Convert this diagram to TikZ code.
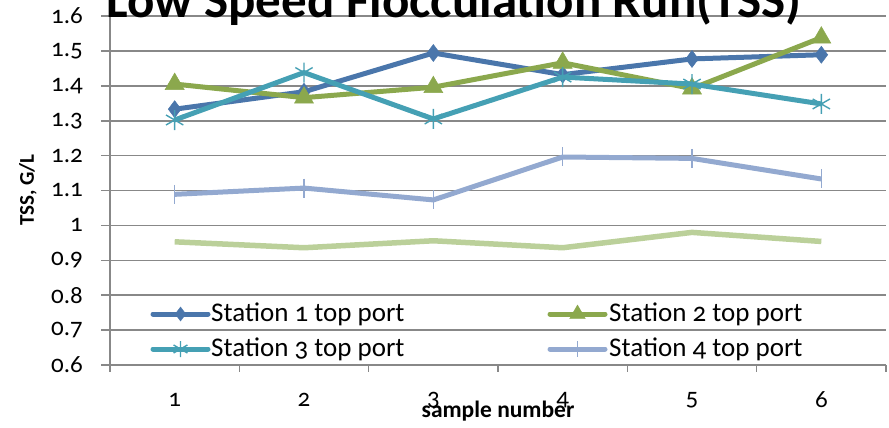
\documentclass[tikz,border=0pt]{standalone}
\usepackage{fontspec}
\setmainfont{Carlito}[Numbers=OldStyle]
\usetikzlibrary{plotmarks}
\definecolor{cA}{HTML}{4A76AB}
\definecolor{cB}{HTML}{8BA84D}
\definecolor{cC}{HTML}{45A0B4}
\definecolor{cD}{HTML}{93A9D0}
\definecolor{cE}{HTML}{BBD09A}
\definecolor{axisgray}{HTML}{888888}
\tikzset{
  grid/.style={draw=axisgray,line width=1.6pt},
  serline/.style={line width=5pt,line join=round},
  ticklab/.style={font=\fontsize{25}{25}\selectfont,inner sep=0pt},
  leglab/.style={font=\fontsize{27}{27}\selectfont,inner sep=0pt,anchor=west},
}
\newcommand\catx[1]{110+(#1-0.5)*129.333}
\newcommand\valy[1]{365-(#1-0.6)*349}
\begin{document}
\begin{tikzpicture}[x=1pt,y=-1pt]
\useasboundingbox (0,0) rectangle (889,428);
\clip (0,0) rectangle (889,428);
% gridlines and y ticks
\foreach \k in {0,...,10}{
  \pgfmathsetmacro\gy{365-\k*34.9}
  \draw[grid] (101,\gy) -- (886,\gy);
}
\foreach \k/\lab in {0/0.6,1/0.7,2/0.8,3/0.9,4/1,5/1.1,6/1.2,7/1.3,8/1.4,9/1.5,10/1.6}{
  \pgfmathsetmacro\gy{365-\k*34.9}
  \node[ticklab,anchor=east] (yl\k) at (83,\gy) {\lab};
}
% axes
\draw[grid] (110,16) -- (110,372);
\foreach \k in {1,...,6}{
  \pgfmathsetmacro\tx{110+\k*129.333}
  \draw[grid] (\tx,365) -- (\tx,372);
}
\foreach \k in {1,...,6}{
  \node[ticklab] (xl\k) at ({\catx{\k}},400) {\k};
}
% data coordinates
\foreach \i/\v in {1/1.333,2/1.383,3/1.494,4/1.432,5/1.477,6/1.489}
  \coordinate (a\i) at ({\catx{\i}},{\valy{\v}});
\foreach \i/\v in {1/1.405,2/1.366,3/1.396,4/1.466,5/1.392,6/1.538}
  \coordinate (b\i) at ({\catx{\i}},{\valy{\v}});
\foreach \i/\v in {1/1.302,2/1.438,3/1.305,4/1.425,5/1.405,6/1.348}
  \coordinate (c\i) at ({\catx{\i}},{\valy{\v}});
\foreach \i/\v in {1/1.089,2/1.107,3/1.073,4/1.196,5/1.192,6/1.133}
  \coordinate (d\i) at ({\catx{\i}},{\valy{\v}});
\foreach \i/\v in {1/0.953,2/0.936,3/0.956,4/0.936,5/0.980,6/0.954}
  \coordinate (e\i) at ({\catx{\i}},{\valy{\v}});
% series 5 (no markers)
\draw[serline,cE,line width=5.5pt] (e1) -- (e2) -- (e3) -- (e4) -- (e5) -- (e6);
% series 4
\draw[serline,cD] (d1) -- (d2) -- (d3) -- (d4) -- (d5) -- (d6);
\path plot[mark=|,mark size=9.5pt,mark options={draw=cD,line width=1.4pt}] coordinates {(d1)(d2)(d3)(d4)(d5)(d6)};
% series 1
\draw[serline,cA] (a1) -- (a2) -- (a3) -- (a4) -- (a5) -- (a6);
\path plot[mark=diamond*,mark size=8.5pt,mark options={draw=cA,fill=cA,line width=0.5pt}] coordinates {(a1)(a2)(a3)(a4)(a5)(a6)};
% series 2
\draw[serline,cB] (b1) -- (b2) -- (b3) -- (b4) -- (b5) -- (b6);
\path plot[mark=triangle*,mark size=11pt,mark options={draw=cB,fill=cB,line width=0.5pt}] coordinates {(b1)(b2)(b3)(b4)(b5)(b6)};
% series 3
\draw[serline,cC] (c1) -- (c2) -- (c3) -- (c4) -- (c5) -- (c6);
\path plot[mark=asterisk,mark size=10pt,mark options={draw=cC,line width=1.4pt}] coordinates {(c1)(c2)(c3)(c4)(c5)(c6)};
% legend
\coordinate (la1) at (153,314); \coordinate (la2) at (208,314); \coordinate (lam) at (180.5,314);
\coordinate (lb1) at (550,314); \coordinate (lb2) at (605,314); \coordinate (lbm) at (577.5,314);
\coordinate (lc1) at (153,349); \coordinate (lc2) at (208,349); \coordinate (lcm) at (180.5,349);
\coordinate (ld1) at (550,349); \coordinate (ld2) at (605,349); \coordinate (ldm) at (577.5,349);
\draw[serline,cA,line cap=round] (la1) -- (la2);
\path plot[mark=diamond*,mark size=7pt,mark options={draw=cA,fill=cA}] coordinates {(lam)};
\draw[serline,cB,line cap=round] (lb1) -- (lb2);
\path plot[mark=triangle*,mark size=9pt,mark options={draw=cB,fill=cB}] coordinates {(lbm)};
\draw[serline,cC,line cap=round] (lc1) -- (lc2);
\path plot[mark=asterisk,mark size=8pt,mark options={draw=cC,line width=1.4pt}] coordinates {(lcm)};
\draw[serline,cD,line cap=round] (ld1) -- (ld2);
\path plot[mark=|,mark size=8pt,mark options={draw=cD,line width=1.4pt}] coordinates {(ldm)};
\node[leglab] (t1) at (211,314) {Station 1 top port};
\node[leglab] (t2) at (609,314) {Station 2 top port};
\node[leglab] (t3) at (211,349) {Station 3 top port};
\node[leglab] (t4) at (609,349) {Station 4 top port};
% titles
\node[font=\bfseries\fontsize{51}{51}\selectfont,anchor=base,inner sep=0pt] (title) at (454,18) {Low Speed Flocculation Run(TSS)};
\node[font=\bfseries\fontsize{23.5}{23.5}\selectfont,inner sep=0pt] (xt) at (498,411) {sample number};
\node[font=\bfseries\fontsize{21}{21}\selectfont,inner sep=0pt,rotate=90] (yt) at (28,190) {TSS, G/L};
\end{tikzpicture}
\end{document}
